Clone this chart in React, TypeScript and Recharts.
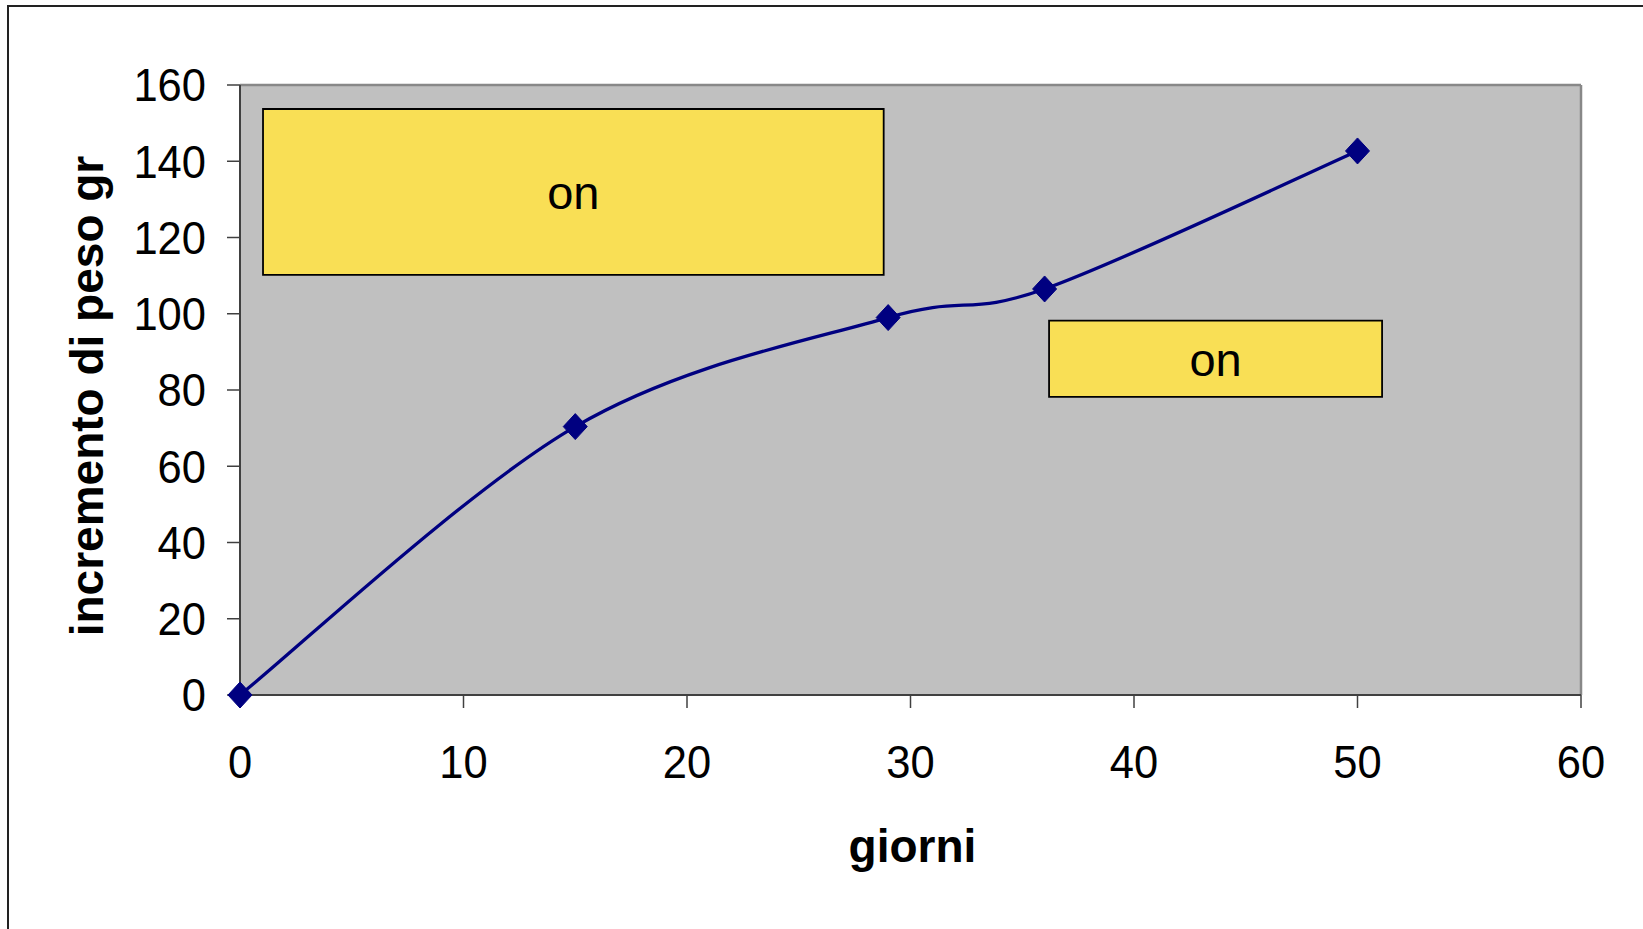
import {
  LineChart,
  Line,
  XAxis,
  YAxis,
  CartesianGrid,
  ReferenceArea,
  ReferenceLine,
} from 'recharts';

// days of observation and weight gain (gr) measured on those days
const days = [0, 15, 29, 36, 50];
const weightGain = [0, 70.4, 99, 106.5, 142.7];

const xTicks = [0, 10, 20, 30, 40, 50, 60];
const yTicks = [0, 20, 40, 60, 80, 100, 120, 140, 160];

// yellow note boxes drawn over the plot
const noteX1 = [1.03, 36.2];
const noteX2 = [28.8, 51.1];
const noteY1 = [110.2, 78.2];
const noteY2 = [153.7, 98.2];
const noteText = ['on', 'on'];

const data = days.map((d, i) => ({ giorni: d, peso: weightGain[i] }));

const FONT = '"Liberation Sans", Arial, sans-serif';
const NAVY = '#000080';

// smoothing like a spreadsheet "smoothed line": cubic bezier with 1/6 tangents
function smoothLine(context: any) {
  let pts: [number, number][] = [];
  return {
    areaStart() {},
    areaEnd() {},
    lineStart() {
      pts = [];
    },
    point(x: number, y: number) {
      pts.push([+x, +y]);
    },
    lineEnd() {
      if (!pts.length) return;
      context.moveTo(pts[0][0], pts[0][1]);
      for (let i = 0; i < pts.length - 1; i++) {
        const p0 = pts[Math.max(i - 1, 0)];
        const p1 = pts[i];
        const p2 = pts[i + 1];
        const p3 = pts[Math.min(i + 2, pts.length - 1)];
        context.bezierCurveTo(
          p1[0] + (p2[0] - p0[0]) / 6,
          p1[1] + (p2[1] - p0[1]) / 6,
          p2[0] - (p3[0] - p1[0]) / 6,
          p2[1] - (p3[1] - p1[1]) / 6,
          p2[0],
          p2[1],
        );
      }
    },
  };
}

const Diamond = (props: any) => {
  const { cx, cy } = props;
  if (cx == null || cy == null) return null;
  const w = 12;
  const h = 13;
  return (
    <polygon
      points={`${cx},${cy - h} ${cx + w},${cy} ${cx},${cy + h} ${cx - w},${cy}`}
      fill={NAVY}
      stroke={NAVY}
      strokeWidth={1}
    />
  );
};

// tick labels are slightly taller than wide in this chart
const AxisTick = (props: any) => {
  const { x, y, payload, textAnchor, verticalAnchor } = props;
  const dy = verticalAnchor === 'start' ? '0.716em' : '0.358em';
  return (
    <g transform={`translate(${x},${y}) scale(1,1.05)`}>
      <text
        x={0}
        y={0}
        dy={dy}
        textAnchor={textAnchor}
        fontSize={43.5}
        fontFamily={FONT}
        fill="#000"
      >
        {payload.value}
      </text>
    </g>
  );
};

const renderYTitle = (props: any) => {
  const { x, y, height } = props.viewBox;
  const cx = x + 103;
  const cy = y + height / 2 + 6;
  return (
    <text
      x={cx}
      y={cy}
      transform={`rotate(-90 ${cx} ${cy})`}
      textAnchor="middle"
      fontSize={46}
      fontWeight="bold"
      fontFamily={FONT}
      fill="#000"
    >
      incremento di peso gr
    </text>
  );
};

const renderXTitle = (props: any) => {
  const { x, y, width } = props.viewBox;
  return (
    <text
      x={x + width / 2 + 2}
      y={y + 167}
      textAnchor="middle"
      fontSize={46}
      fontWeight="bold"
      fontFamily={FONT}
      fill="#000"
    >
      giorni
    </text>
  );
};

const noteLabel = (text: string) => (props: any) => {
  const { x, y, width, height } = props.viewBox;
  return (
    <text
      x={x + width / 2}
      y={y + height / 2 + 17}
      textAnchor="middle"
      fontSize={47}
      fontFamily={FONT}
      fill="#000"
    >
      {text}
    </text>
  );
};

export default function App() {
  return (
    <div
      style={{
        position: 'absolute',
        left: 0,
        top: 0,
        width: 1643,
        height: 929,
        background: '#fff',
        overflow: 'hidden',
        fontFamily: FONT,
      }}
    >
      <div
        style={{
          position: 'absolute',
          left: 7,
          top: 5,
          width: 1700,
          height: 1000,
          borderTop: '2px solid #222',
          borderLeft: '2px solid #222',
        }}
      />
      <div style={{ position: 'absolute', left: 0, top: 0 }}>
        <LineChart
          width={1643}
          height={929}
          data={data}
          margin={{ top: 85, right: 62, bottom: 0, left: 0 }}
        >
          <CartesianGrid horizontal={false} vertical={false} fill="#C0C0C0" />
          <XAxis
            dataKey="giorni"
            type="number"
            domain={[0, 60]}
            ticks={xTicks}
            height={234}
            tickSize={13}
            tickMargin={37}
            axisLine={{ stroke: '#404040', strokeWidth: 2 }}
            tickLine={{ stroke: '#404040', strokeWidth: 1.5 }}
            tick={<AxisTick />}
            label={renderXTitle}
          />
          <YAxis
            type="number"
            domain={[0, 160]}
            ticks={yTicks}
            width={240}
            tickSize={13}
            tickMargin={21}
            axisLine={{ stroke: '#404040', strokeWidth: 2 }}
            tickLine={{ stroke: '#404040', strokeWidth: 1.5 }}
            tick={<AxisTick />}
            label={renderYTitle}
          />
          <ReferenceLine y={160} stroke="#888" strokeWidth={2.5} />
          <ReferenceLine x={60} stroke="#888" strokeWidth={2.5} />
          {noteText.map((t, i) => (
            <ReferenceArea
              key={i}
              x1={noteX1[i]}
              x2={noteX2[i]}
              y1={noteY1[i]}
              y2={noteY2[i]}
              fill="#F9DF55"
              fillOpacity={1}
              stroke="#000"
              strokeWidth={1.8}
              label={noteLabel(t)}
            />
          ))}
          <Line
            dataKey="peso"
            type={smoothLine as any}
            stroke={NAVY}
            strokeWidth={3.3}
            dot={<Diamond />}
            activeDot={false}
            isAnimationActive={false}
          />
        </LineChart>
      </div>
    </div>
  );
}
